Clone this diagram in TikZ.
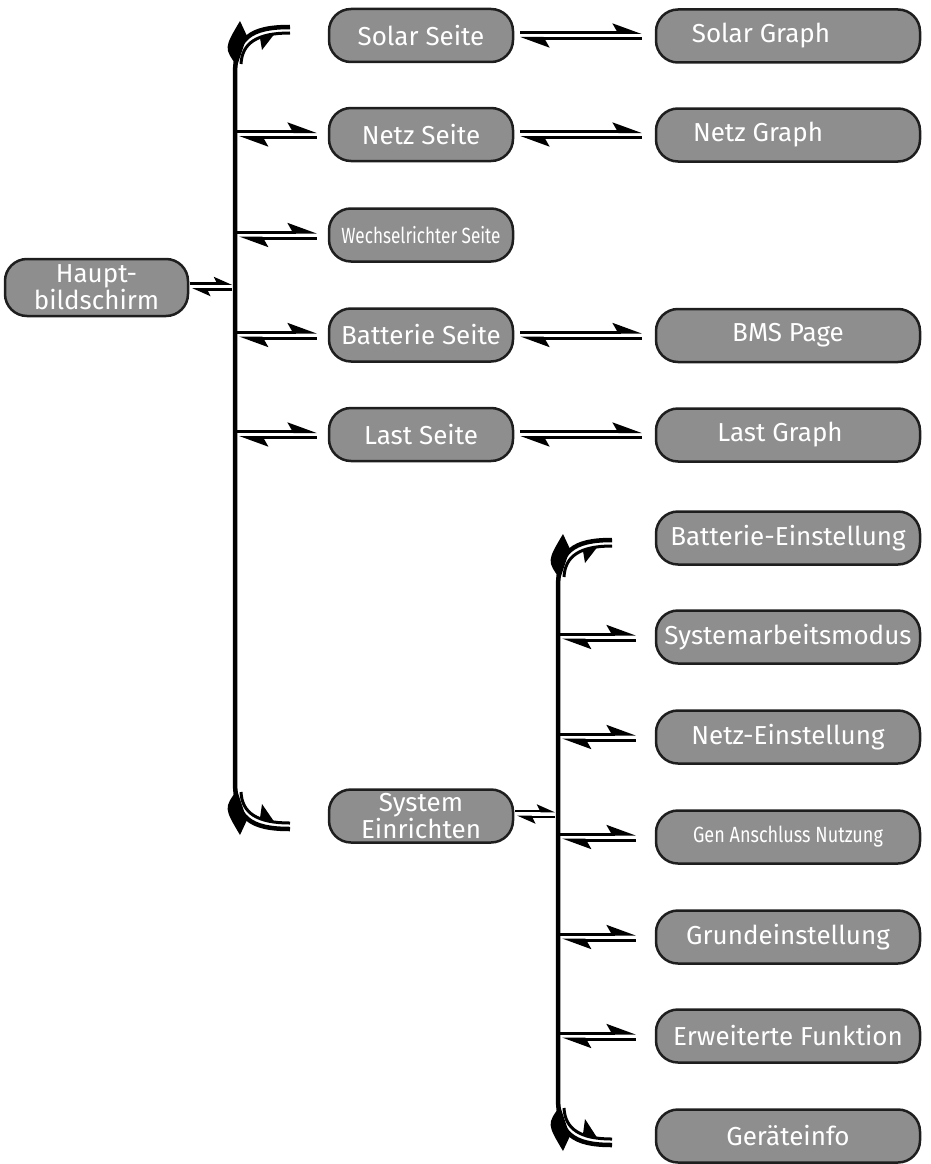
\documentclass[tikz,border=0pt]{standalone}
\usepackage{fontspec}
\setmainfont{Fira Sans}
\usetikzlibrary{arrows.meta}

\definecolor{boxgray}{HTML}{8E8E8E}
\definecolor{boxline}{HTML}{1E1E1E}

\begin{document}
\begin{tikzpicture}[
  x=1pt, y=-1pt,
  box/.style={
    draw=boxline, fill=boxgray, line width=2.5pt, rounded corners=22pt,
    minimum height=53pt, inner sep=0pt, align=center, text=white,
    font=\fontsize{26}{27}\selectfont
  },
  midbox/.style={box, minimum width=184pt},
  widebox/.style={box, minimum width=264pt},
  narrow/.style={font=\fontsize{22}{24}\selectfont},
  bus/.style={line width=4.5pt, draw=black},
  innerline/.style={line width=3pt, draw=black},
  barb/.style={fill=black},
  harp/.style={line width=3pt, -{Stealth[harpoon, length=25pt, width=18pt, inset=5pt]}},
  shortharp/.style={line width=2.6pt, -{Stealth[harpoon, length=15pt, width=13pt, inset=3pt]}},
]
\useasboundingbox (0,0) rectangle (931,1164);

% Main screen
\node[box, minimum width=183pt, minimum height=57pt] (haupt) at (96.5,287.5) {Haupt-\\bildschirm};

% Second column
\node[midbox] (solar) at (421,35.5) {Solar Seite};
\node[midbox] (netz) at (421,134.5) {Netz Seite};
\node[midbox, narrow] (wr) at (421,235) {\scalebox{0.78}[1]{Wechselrichter Seite}};
\node[midbox] (batt) at (421,335) {Batterie Seite};
\node[midbox] (last) at (421,434.5) {Last Seite};
\node[midbox] (sys) at (421,816) {System\\Einrichten};

% Graph pages
\node[widebox] (solarg) at (788,36) {Solar Graph\hspace*{54pt}};
\node[widebox] (netzg) at (788,135) {Netz Graph\hspace*{60pt}};
\node[widebox] (bms) at (788,335.5) {BMS Page};
\node[widebox] (lastg) at (788,435) {Last Graph\hspace*{16pt}};

% Settings pages
\node[widebox] (battein) at (788,538) {Batterie-Einstellung};
\node[widebox] (sysmod) at (788,637) {Systemarbeitsmodus};
\node[widebox] (netzein) at (788,737) {Netz-Einstellung};
\node[widebox, narrow] (gen) at (788,837) {\scalebox{0.82}[1]{Gen Anschluss Nutzung}};
\node[widebox] (grund) at (788,937) {Grundeinstellung};
\node[widebox] (erw) at (788,1036) {Erweiterte Funktion};
\node[widebox] (info) at (788,1136) {Geräteinfo};

% First bus with curved ends
\coordinate (b1top) at (290,27);
\coordinate (b1bot) at (290,829);
\draw[bus] (b1top) .. controls (250,27) and (235,38) .. (235,75)
  -- (235,781) .. controls (235,818) and (250,829) .. (b1bot);
\draw[innerline] (290,33) .. controls (257,33) and (242,43) .. (241,64);
\draw[innerline] (290,823) .. controls (257,823) and (242,813) .. (241,792);
\fill[barb] (237,66) .. controls (224,48) .. (240,21) -- (247,36) -- cycle;
\fill[barb] (274,34.5) -- (262,50) -- (260,38) -- cycle;
\fill[barb] (237,790) .. controls (224,808) .. (240,835) -- (247,820) -- cycle;
\fill[barb] (274,821.5) -- (262,804) -- (260,818) -- cycle;

% Second bus with curved ends
\coordinate (b2top) at (612,540);
\coordinate (b2bot) at (612,1145);
\draw[bus] (b2top) .. controls (573,540) and (558,551) .. (558,588)
  -- (558,1097) .. controls (558,1134) and (573,1145) .. (b2bot);
\draw[innerline] (612,546) .. controls (580,546) and (565,556) .. (564,577);
\draw[innerline] (612,1139) .. controls (580,1139) and (565,1129) .. (564,1108);
\fill[barb] (560,579) .. controls (547,561) .. (563,534) -- (570,549) -- cycle;
\fill[barb] (597,547.5) -- (585,563) -- (583,551) -- cycle;
\fill[barb] (560,1106) .. controls (547,1124) .. (563,1151) -- (570,1136) -- cycle;
\fill[barb] (597,1137.5) -- (585,1119) -- (583,1134) -- cycle;

% Points on the bus
\coordinate (b1h) at (235,286.5);
\coordinate (b1n) at (235,134.5);
\coordinate (b1w) at (235,235);
\coordinate (b1b) at (235,335);
\coordinate (b1l) at (235,434.5);
\coordinate (b2s) at (558,814);
\coordinate (b2m) at (558,637);
\coordinate (b2n) at (558,737);
\coordinate (b2g) at (558,837);
\coordinate (b2r) at (558,937);
\coordinate (b2e) at (558,1036);

% Main screen to bus
\draw[shortharp] ([xshift=1pt, yshift=3pt]haupt.east |- b1h) -- ([xshift=-3pt, yshift=3pt]b1h);
\draw[shortharp] ([xshift=-3pt, yshift=-3pt]b1h) -- ([xshift=3pt, yshift=-3pt]haupt.east |- b1h);

% Bus to second column
\draw[harp] ([xshift=2pt, yshift=3pt]b1n) -- ([xshift=-11pt, yshift=3pt]netz.west);
\draw[harp] ([xshift=-11pt, yshift=-3pt]netz.west) -- ([xshift=4pt, yshift=-3pt]b1n);
\draw[harp] ([xshift=2pt, yshift=3pt]b1w) -- ([xshift=-11pt, yshift=3pt]wr.west);
\draw[harp] ([xshift=-11pt, yshift=-3pt]wr.west) -- ([xshift=4pt, yshift=-3pt]b1w);
\draw[harp] ([xshift=2pt, yshift=3pt]b1b) -- ([xshift=-11pt, yshift=3pt]batt.west);
\draw[harp] ([xshift=-11pt, yshift=-3pt]batt.west) -- ([xshift=4pt, yshift=-3pt]b1b);
\draw[harp] ([xshift=2pt, yshift=3pt]b1l) -- ([xshift=-11pt, yshift=3pt]last.west);
\draw[harp] ([xshift=-11pt, yshift=-3pt]last.west) -- ([xshift=4pt, yshift=-3pt]b1l);

% Second column to graph pages
\draw[harp] ([xshift=6pt, yshift=3pt]solar.east) -- ([xshift=-13pt, yshift=3pt]solar.east -| solarg.west);
\draw[harp] ([xshift=-13pt, yshift=-3pt]solar.east -| solarg.west) -- ([xshift=6pt, yshift=-3pt]solar.east);
\draw[harp] ([xshift=6pt, yshift=3pt]netz.east) -- ([xshift=-13pt, yshift=3pt]netz.east -| netzg.west);
\draw[harp] ([xshift=-13pt, yshift=-3pt]netz.east -| netzg.west) -- ([xshift=6pt, yshift=-3pt]netz.east);
\draw[harp] ([xshift=6pt, yshift=3pt]batt.east) -- ([xshift=-13pt, yshift=3pt]batt.east -| bms.west);
\draw[harp] ([xshift=-13pt, yshift=-3pt]batt.east -| bms.west) -- ([xshift=6pt, yshift=-3pt]batt.east);
\draw[harp] ([xshift=6pt, yshift=3pt]last.east) -- ([xshift=-13pt, yshift=3pt]last.east -| lastg.west);
\draw[harp] ([xshift=-13pt, yshift=-3pt]last.east -| lastg.west) -- ([xshift=6pt, yshift=-3pt]last.east);

% System setup to second bus
\draw[shortharp] ([xshift=1pt, yshift=3pt]sys.east |- b2s) -- ([xshift=-3pt, yshift=3pt]b2s);
\draw[shortharp] ([xshift=-3pt, yshift=-3pt]b2s) -- ([xshift=3pt, yshift=-3pt]sys.east |- b2s);

% Second bus to settings pages
\draw[harp] ([xshift=2pt, yshift=3pt]b2m) -- ([xshift=-19pt, yshift=3pt]sysmod.west);
\draw[harp] ([xshift=-19pt, yshift=-3pt]sysmod.west) -- ([xshift=4pt, yshift=-3pt]b2m);
\draw[harp] ([xshift=2pt, yshift=3pt]b2n) -- ([xshift=-19pt, yshift=3pt]netzein.west);
\draw[harp] ([xshift=-19pt, yshift=-3pt]netzein.west) -- ([xshift=4pt, yshift=-3pt]b2n);
\draw[harp] ([xshift=2pt, yshift=3pt]b2g) -- ([xshift=-19pt, yshift=3pt]gen.west);
\draw[harp] ([xshift=-19pt, yshift=-3pt]gen.west) -- ([xshift=4pt, yshift=-3pt]b2g);
\draw[harp] ([xshift=2pt, yshift=3pt]b2r) -- ([xshift=-19pt, yshift=3pt]grund.west);
\draw[harp] ([xshift=-19pt, yshift=-3pt]grund.west) -- ([xshift=4pt, yshift=-3pt]b2r);
\draw[harp] ([xshift=2pt, yshift=3pt]b2e) -- ([xshift=-19pt, yshift=3pt]erw.west);
\draw[harp] ([xshift=-19pt, yshift=-3pt]erw.west) -- ([xshift=4pt, yshift=-3pt]b2e);

\end{tikzpicture}
\end{document}
